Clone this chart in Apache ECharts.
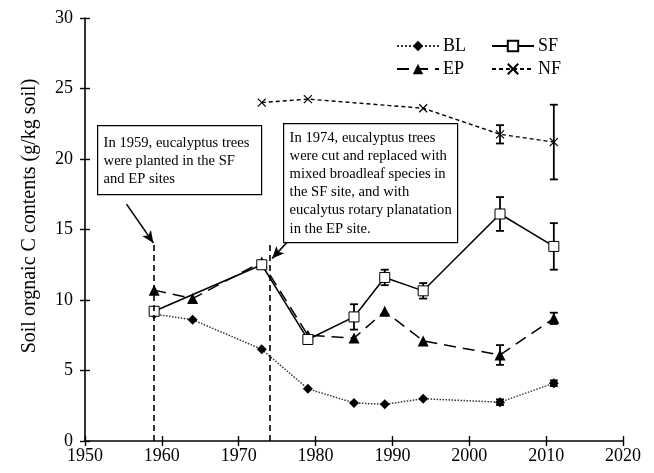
<!DOCTYPE html>
<html>
<head>
<meta charset="utf-8">
<script src="https://cdn.jsdelivr.net/npm/echarts@6/dist/echarts.min.js"></script>
<style>html,body{margin:0;padding:0;background:#fff}#c{width:654px;height:473px}</style>
</head>
<body>
<div id="c"></div>
<script>
// ---- data ----
var years = [1959, 1964, 1973, 1979, 1985, 1989, 1994, 2004, 2011];
var blValues = [9.0, 8.6, 6.5, 3.7, 2.7, 2.6, 3.0, 2.75, 4.1];
var epValues = [10.7, 10.1, 12.7, 7.5, 7.3, 9.2, 7.1, 6.1, 8.7];
var sfYears = [1959, 1973, 1979, 1985, 1989, 1994, 2004, 2011];
var sfValues = [9.2, 12.5, 7.2, 8.8, 11.6, 10.65, 16.1, 13.8];
var nfYears = [1973, 1979, 1994, 2004, 2011];
var nfValues = [24.0, 24.25, 23.6, 21.75, 21.2];
// error bars: [year, value, +/-]
var sfErr = [[1985, 8.8, 0.9], [1989, 11.6, 0.55], [1994, 10.65, 0.55], [2004, 16.1, 1.2], [2011, 13.8, 1.65]];
var epErr = [[2004, 6.1, 0.7], [2011, 8.7, 0.4]];
var blErr = [[2004, 2.75, 0.2], [2011, 4.1, 0.2]];
var nfErr = [[2004, 21.75, 0.65], [2011, 21.2, 2.65]];
var xTicks = [1950, 1960, 1970, 1980, 1990, 2000, 2010, 2020];
var yTicks = [0, 5, 10, 15, 20, 25, 30];
var yTitle = 'Soil orgnaic C contents (g/kg soil)';
var note1 = ['In 1959, eucalyptus trees', 'were planted in the SF', 'and EP sites'];
var note2 = ['In 1974, eucalyptus trees', 'were cut and replaced with', 'mixed broadleaf species in', 'the SF site, and with', 'eucalytus rotary planatation', 'in the EP site.'];
var eventYears = [1959, 1974];

var FONT = 'Liberation Serif';
function pairs(xs, ys) { return xs.map(function (x, i) { return [x, ys[i]]; }); }
function errData(arr) { return arr.map(function (d) { return [d[0], d[1] - d[2], d[1] + d[2]]; }); }

function errRender(params, api) {
  var x = api.value(0), lo = api.value(1), hi = api.value(2);
  var p1 = api.coord([x, hi]), p2 = api.coord([x, lo]);
  var w = 4;
  var st = { stroke: '#000', lineWidth: 1.8 };
  return {
    type: 'group', children: [
      { type: 'line', shape: { x1: p1[0], y1: p1[1], x2: p2[0], y2: p2[1] }, style: st },
      { type: 'line', shape: { x1: p1[0] - w, y1: p1[1], x2: p1[0] + w, y2: p1[1] }, style: st },
      { type: 'line', shape: { x1: p2[0] - w, y1: p2[1], x2: p2[0] + w, y2: p2[1] }, style: st }
    ]
  };
}
function errSeries(arr) {
  return { type: 'custom', renderItem: errRender, data: errData(arr), encode: { x: 0, y: [1, 2] }, z: 1, silent: true };
}

var crossPath = 'path://M0,0L10,10M10,0L0,10';
var chart = echarts.init(document.getElementById('c'), null, { renderer: 'canvas' });

var grid = { left: 85, right: 31, top: 18, bottom: 32 };
var labelStyle = { fontFamily: FONT, fontSize: 18, color: '#000' };
var legendText = { fontFamily: FONT, fontSize: 18, color: '#000', padding: [0, 0, 0, -1] };

var option = {
  animation: false,
  backgroundColor: '#fff',
  grid: grid,
  legend: [
    { data: ['BL', 'EP'], orient: 'vertical', left: 396, top: 37, padding: 0, itemWidth: 42, itemHeight: 13, itemGap: 5,
      textStyle: legendText },
    { data: ['SF', 'NF'], orient: 'vertical', left: 491, top: 37, padding: 0, itemWidth: 42, itemHeight: 13, itemGap: 5,
      textStyle: legendText }
  ],
  xAxis: [
    { type: 'value', min: 1950, max: 2020, interval: 10,
      axisLine: { show: true, lineStyle: { color: '#000', width: 1.6 } },
      axisTick: { show: true, length: 5, lineStyle: { color: '#000', width: 1.4 } },
      axisLabel: Object.assign({ margin: 6, formatter: function (v) { return xTicks.indexOf(v) >= 0 ? String(v) : ''; } }, labelStyle),
      splitLine: { show: false } },
    { type: 'value', min: 1950, max: 2020, interval: 10, position: 'bottom',
      axisLine: { show: false }, axisTick: { show: true, inside: true, length: 5, lineStyle: { color: '#000', width: 1.4 } },
      axisLabel: { show: false }, splitLine: { show: false } }
  ],
  yAxis: [
    { type: 'value', min: 0, max: 30, interval: 5,
      axisLine: { show: true, lineStyle: { color: '#000', width: 1.6 } },
      axisTick: { show: true, length: 5, lineStyle: { color: '#000', width: 1.4 } },
      axisLabel: Object.assign({ margin: 12, formatter: function (v) { return yTicks.indexOf(v) >= 0 ? String(v) : ''; } }, labelStyle),
      splitLine: { show: false } },
    { type: 'value', min: 0, max: 30, interval: 5, position: 'left',
      axisLine: { show: false }, axisTick: { show: true, inside: true, length: 5, lineStyle: { color: '#000', width: 1.4 } },
      axisLabel: { show: false }, splitLine: { show: false } }
  ],
  series: [
    errSeries(sfErr), errSeries(epErr), errSeries(blErr), errSeries(nfErr),
    { name: 'BL', type: 'line', data: pairs(years, blValues), symbol: 'diamond', symbolSize: 10,
      itemStyle: { color: '#000' }, lineStyle: { color: '#333', width: 1.5, type: 'dotted' }, z: 3,
      markLine: {
        silent: true, symbol: ['none', 'none'], label: { show: false },
        lineStyle: { color: '#000', type: [6, 4], width: 1.6 },
        data: [
          [{ coord: [eventYears[0], 0] }, { coord: [eventYears[0], 14.1] }],
          [{ coord: [eventYears[1], 0] }, { coord: [eventYears[1], 13.9] }]
        ]
      }
    },
    { name: 'EP', type: 'line', data: pairs(years, epValues), symbol: 'triangle', symbolSize: 11,
      itemStyle: { color: '#000' }, lineStyle: { color: '#000', width: 1.5, type: [12, 7] }, z: 3,
      markLine: {
        silent: true, symbol: ['none', 'arrow'], symbolSize: [8, 12], label: { show: false },
        lineStyle: { color: '#000', type: 'solid', width: 1.6 },
        data: [
          [{ coord: [1955.4, 16.8] }, { coord: [1958.9, 14.05] }],
          [{ coord: [1976.3, 14.1] }, { coord: [1974.35, 12.95] }]
        ]
      }
    },
    { name: 'SF', type: 'line', data: pairs(sfYears, sfValues), symbol: 'rect', symbolSize: 10,
      itemStyle: { color: '#fff', borderColor: '#000', borderWidth: 1 }, lineStyle: { color: '#000', width: 1.5 }, z: 4 },
    { name: 'NF', type: 'line', data: pairs(nfYears, nfValues), symbol: crossPath, symbolSize: 8,
      itemStyle: { color: 'rgba(0,0,0,0)', borderColor: '#000', borderWidth: 1.2 }, lineStyle: { color: '#000', width: 1.4, type: [4, 3] }, z: 3 }
  ],
  graphic: [
    { type: 'text', x: 30, y: 216, rotation: Math.PI / 2,
      style: { text: yTitle, font: '20px "Liberation Serif"', fill: '#000', align: 'center', verticalAlign: 'middle' } },
    { type: 'group', left: 97, top: 125, children: [
      { type: 'rect', shape: { x: 0, y: 0, width: 164, height: 69 }, style: { fill: '#fff', stroke: '#000', lineWidth: 1.2 } },
      { type: 'text', x: 6, y: 8, style: { text: note1.join('\n'), font: '14.6px "Liberation Serif"', lineHeight: 18.2, fill: '#000' } }
    ] },
    { type: 'group', left: 283, top: 123, children: [
      { type: 'rect', shape: { x: 0, y: 0, width: 174, height: 119 }, style: { fill: '#fff', stroke: '#000', lineWidth: 1.2 } },
      { type: 'text', x: 6, y: 5, style: { text: note2.join('\n'), font: '14.6px "Liberation Serif"', lineHeight: 18.2, fill: '#000' } }
    ] }
  ]
};
chart.setOption(option);
</script>
</body>
</html>
